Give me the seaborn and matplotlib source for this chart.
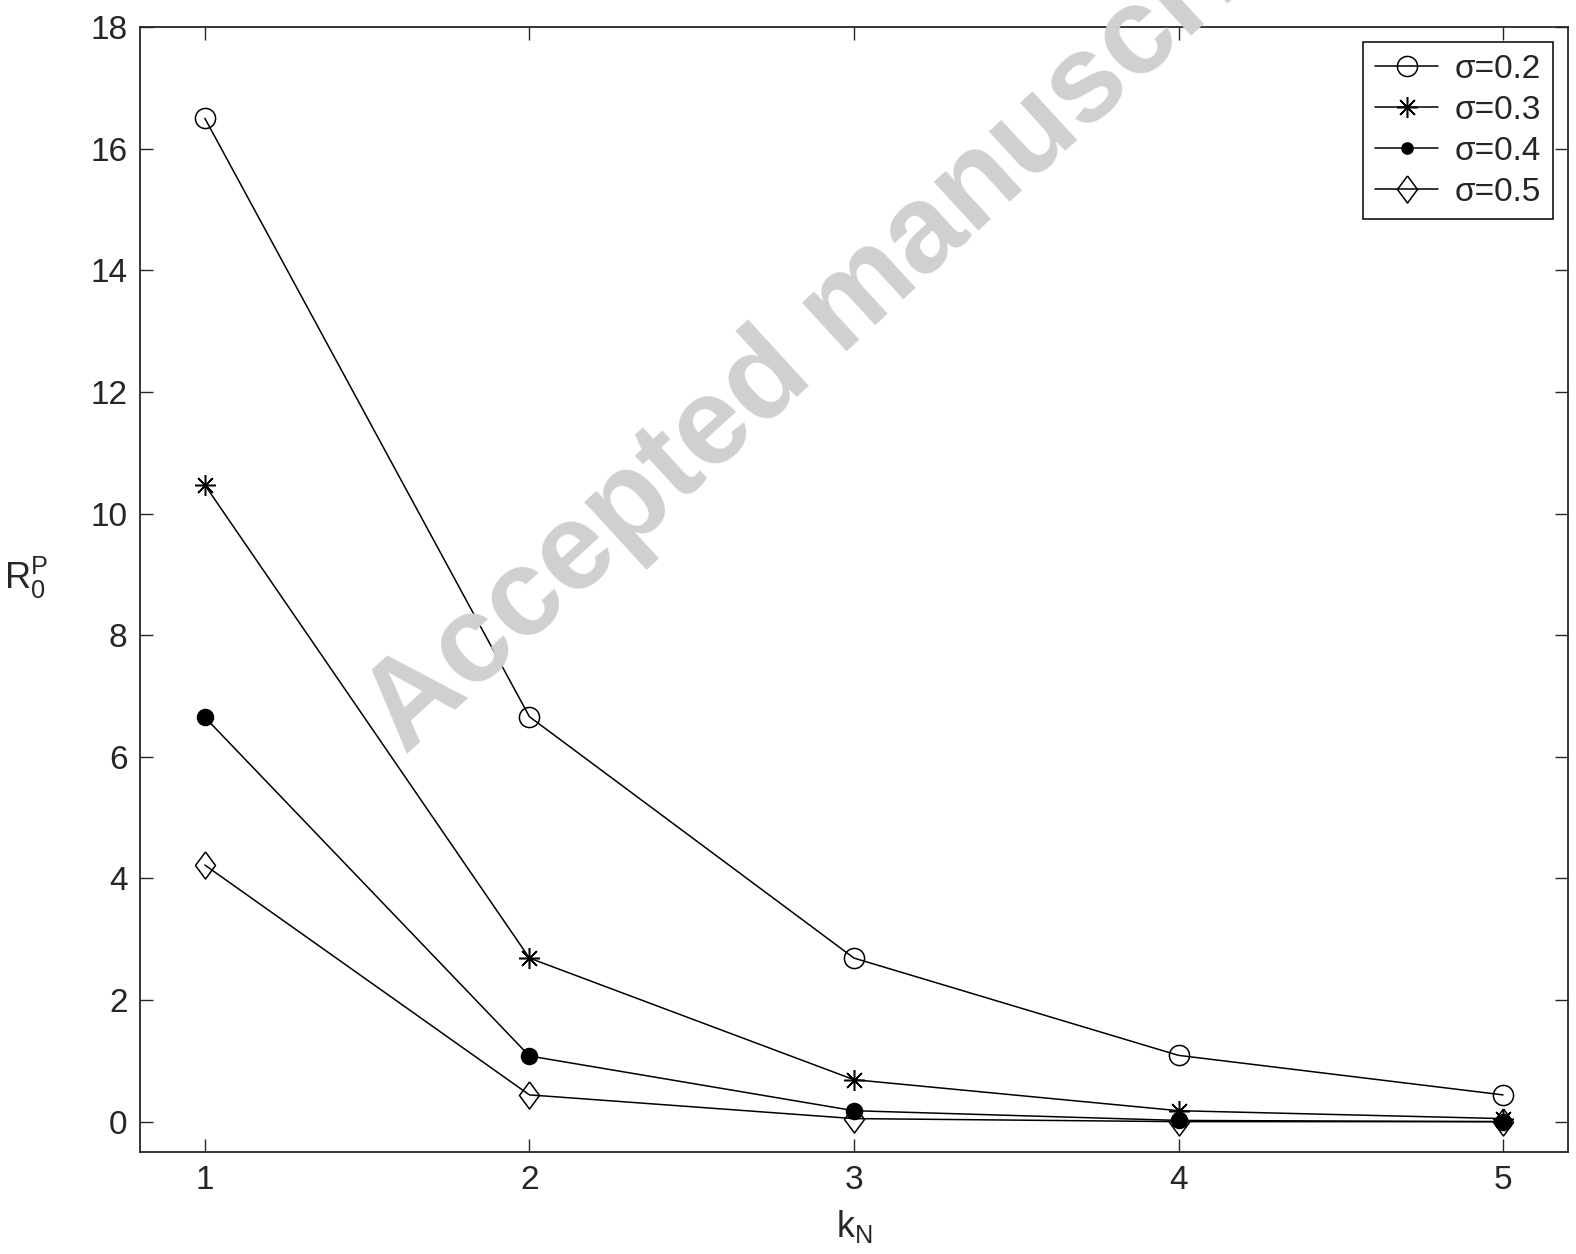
import numpy as np
import pandas as pd
import matplotlib
matplotlib.use("Agg")
import matplotlib.pyplot as plt
import seaborn as sns

# values
k_N = [1, 2, 3, 4, 5]
r_sigma_02 = [16.5, 6.66, 2.69, 1.09, 0.44]
r_sigma_03 = [10.47, 2.69, 0.69, 0.18, 0.05]
r_sigma_04 = [6.65, 1.08, 0.18, 0.02, 0.0]
r_sigma_05 = [4.22, 0.44, 0.05, 0.0, 0.0]
labels = ["σ=0.2", "σ=0.3", "σ=0.4", "σ=0.5"]

sns.set_style("ticks")
plt.rcParams['font.family'] = ['Liberation Sans', 'DejaVu Sans']
plt.rcParams['mathtext.fontset'] = 'custom'
plt.rcParams['mathtext.rm'] = 'Liberation Sans'
plt.rcParams['mathtext.it'] = 'Liberation Sans'
plt.rcParams['axes.linewidth'] = 1.3

fig = plt.figure(figsize=(15.76, 12.54), dpi=100)
ax = fig.add_axes([0.0888, 0.0813, 0.9061, 0.8971])

# watermark behind everything
fig.text(0.257, 0.397, "Accepted manuscript", rotation=42.5, rotation_mode='anchor',
         ha='left', va='baseline', fontsize=89, fontweight='bold', color='#d0d0d0', zorder=0)
ax.set_facecolor('none')

diamond = [(0, 1), (0.74, 0), (0, -1), (-0.74, 0), (0, 1)]
styles = [
    dict(marker='o', markersize=14.5, markerfacecolor='none'),
    dict(marker=(8, 2, 0), markersize=15),
    dict(marker='o', markersize=11.5, markerfacecolor='black'),
    dict(marker=diamond, markersize=19.5, markerfacecolor='none'),
]
series = [r_sigma_02, r_sigma_03, r_sigma_04, r_sigma_05]

for vals, lab, st in zip(series, labels, styles):
    df = pd.DataFrame({'k': k_N, 'R': vals})
    sns.lineplot(data=df, x='k', y='R', ax=ax, color='black', linewidth=1.1,
                 markeredgecolor='black', markeredgewidth=1.1, label=lab, **st)

ax.set_xlim(0.8, 5.2)
ax.set_ylim(-0.5, 18)
ax.set_xticks([1, 2, 3, 4, 5])
ax.set_yticks(np.arange(0, 19, 2))
ax.tick_params(direction='in', length=9.5, width=1.0, top=True, right=True,
               labelsize=24, pad=9)
for s in ax.spines.values():
    s.set_visible(True)
    s.set_linewidth(1.3)

ax.set_xlabel(r'$\mathrm{k_N}$', fontsize=26)
ax.xaxis.set_label_coords(0.5, -0.05)
ax.set_ylabel(r'$\mathrm{R_0^P}$', fontsize=26, rotation=0, va='center', ha='center')
ax.yaxis.set_label_coords(-0.08, 0.51)

leg = ax.legend(loc='upper right', fontsize=24, frameon=True, fancybox=False,
                edgecolor='black', framealpha=1, handlelength=1.9,
                borderaxespad=0.45, labelspacing=0.3, borderpad=0.35, handletextpad=0.5)
leg.get_frame().set_linewidth(1.1)
leg.legend_handles[2].set_markersize(8)

fig.savefig("out.png", dpi=100)
